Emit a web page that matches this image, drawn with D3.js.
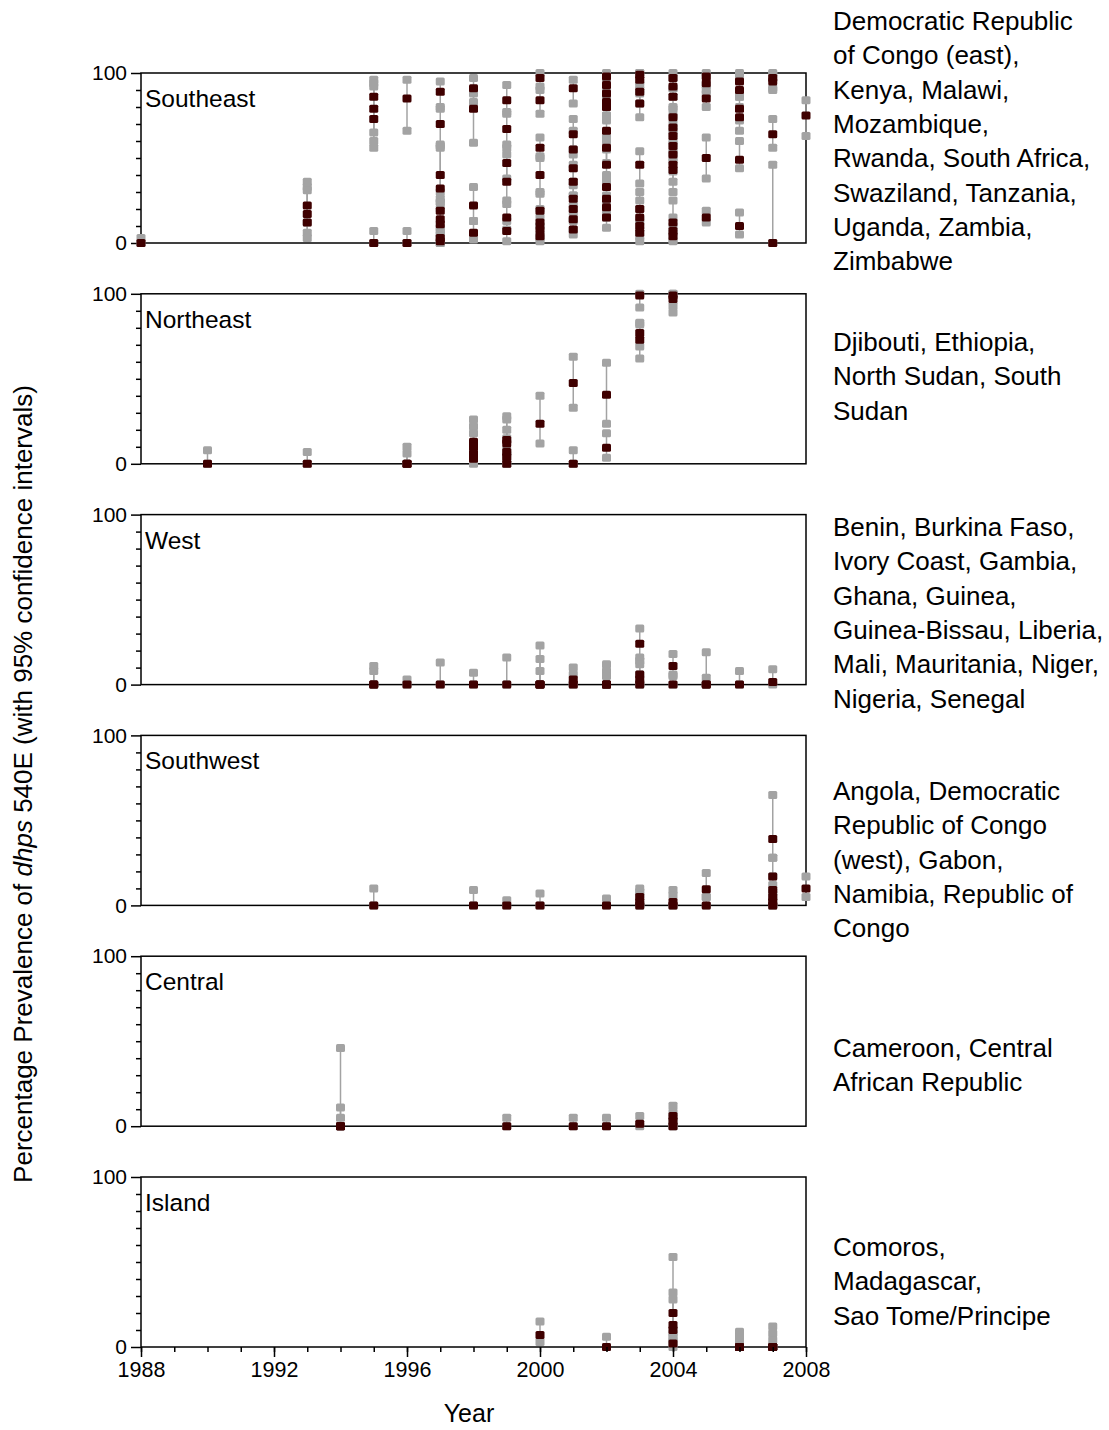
<!DOCTYPE html>
<html>
<head>
<meta charset="utf-8">
<script src="https://cdnjs.cloudflare.com/ajax/libs/d3/7.8.5/d3.min.js"></script>
<style>
  body { margin: 0; background: #fff; }
  text { font-family: "Liberation Sans", Arial, sans-serif; fill: #000; }
</style>
</head>
<body>
<div id="chart"></div>
<script>
// each row: [year, estimate, lower CI, upper CI]
var southeast = [
  [1988,0,0,3],
  [1993,22,12,36],[1993,17,6,33],[1993,12,3,31],
  [1995,86,65,96],[1995,79,60,94],[1995,73,56,92],[1995,0,0,7],
  [1996,85,66,96],[1996,0,0,7],
  [1997,89,79,95],[1997,70,57,80],[1997,40,24,58],[1997,32,20,56],[1997,19,8,30],[1997,14,5,26],[1997,11,3,24],[1997,3,0,9],[1997,1,0,5],
  [1998,91,83,97],[1998,79,59,88],[1998,22,13,33],[1998,6,2,13],
  [1999,84,76,93],[1999,67,58,77],[1999,47,38,56],[1999,36,25,52],[1999,15,8,23],[1999,7,1,13],
  [2000,97,90,100],[2000,84,76,92],[2000,56,50,62],[2000,40,30,51],[2000,19,10,29],[2000,12,5,20],[2000,8,3,15],[2000,4,1,10],
  [2001,91,82,96],[2001,64,55,73],[2001,55,46,66],[2001,44,36,52],[2001,36,28,44],[2001,26,18,34],[2001,20,13,28],[2001,14,8,22],[2001,8,5,14],
  [2002,98,93,100],[2002,93,86,98],[2002,88,80,95],[2002,83,75,90],[2002,80,72,88],[2002,66,60,75],[2002,56,47,62],[2002,46,38,55],[2002,33,25,40],[2002,26,18,35],[2002,21,15,28],[2002,15,9,20],
  [2003,99,93,100],[2003,96,90,100],[2003,89,82,95],[2003,82,74,88],[2003,46,35,54],[2003,20,12,30],[2003,15,8,25],[2003,10,4,20],[2003,6,1,14],
  [2004,97,91,100],[2004,92,86,97],[2004,86,79,91],[2004,74,66,80],[2004,68,60,75],[2004,63,54,70],[2004,57,48,64],[2004,52,42,58],[2004,46,36,53],[2004,43,30,50],[2004,12,6,25],[2004,7,2,15],[2004,4,1,10],
  [2005,98,93,100],[2005,94,88,98],[2005,85,80,90],[2005,50,38,62],[2005,15,12,19],
  [2006,95,88,100],[2006,90,86,97],[2006,79,72,86],[2006,74,66,80],[2006,49,44,60],[2006,10,5,18],
  [2007,97,91,100],[2007,95,90,99],[2007,64,56,73],[2007,0,0,46],
  [2008,75,63,84]
];
var northeast = [
  [1990,0,0,8],[1993,0,0,7],[1996,0,0,10],[1996,0,0,6],
  [1998,13,6,26],[1998,10,4,22],[1998,6,2,18],[1998,3,0,12],
  [1999,14,8,28],[1999,12,6,26],[1999,7,2,20],[1999,4,0,15],[1999,0,0,5],
  [2000,23.5,12,40],
  [2001,47.6,33,63],[2001,0,0,8],
  [2002,40.6,23.5,59.4],[2002,9.4,3.5,18],
  [2003,99,92,100],[2003,77,69,83],[2003,73,62,82],
  [2004,99,93,100],[2004,97,89,100]
];
var west = [
  [1995,0,0,11],[1995,0,0,8],[1996,0,0,3],[1997,0,0,13],[1998,0,0,7],[1999,0,0,16],
  [2000,0,0,23],[2000,0,0,15],[2000,0,0,8],
  [2001,3,0,10],[2001,0,0,6],
  [2002,0,0,12],[2002,0,0,8],[2002,0,0,5],
  [2003,24,16,33],[2003,6,1,14],[2003,3,0,12],[2003,0,0,6],
  [2004,11,6,18],[2004,0,0,5],
  [2005,0,0,19],[2005,0,0,4],
  [2006,0,0,8],
  [2007,1.5,0,9]
];
var southwest = [
  [1995,0,0,10],[1998,0,0,9],[1999,0,0,3],[2000,0,0,7],[2002,0,0,4],
  [2003,5,1,10],[2003,2,0,8],[2003,0,0,6],
  [2004,2,0,9],[2004,0,0,6],
  [2005,9.5,5,19],[2005,0,0,5],
  [2007,39,28,65],[2007,17,7,28],[2007,9,3,17],[2007,5,0,12],[2007,2,0,8],[2007,0,0,5],
  [2008,10,5,17]
];
var central = [
  [1994,0,0,46],[1994,0,0,11],[1994,0,0,5],
  [1999,0,0,5],[2001,0,0,5],[2002,0,0,5],
  [2003,1.5,0,6],
  [2004,6,1,12],[2004,3,0,8],[2004,0,0,5]
];
var island = [
  [2000,7,3,15],
  [2002,0,0,6],
  [2004,20,8,53],[2004,13,4,32],[2004,10,3,28],[2004,2,0,6],
  [2006,0,0,9],[2006,0,0,6],[2006,0,0,3],
  [2007,0,0,12],[2007,0,0,8],[2007,0,0,4]
];

var regionNames = ["Southeast", "Northeast", "West", "Southwest", "Central", "Island"];
var regionData = [southeast, northeast, west, southwest, central, island];
var regionCountries = [
  ["Democratic Republic", "of Congo (east),", "Kenya, Malawi,", "Mozambique,", "Rwanda, South Africa,", "Swaziland, Tanzania,", "Uganda, Zambia,", "Zimbabwe"],
  ["Djibouti, Ethiopia,", "North Sudan, South", "Sudan"],
  ["Benin, Burkina Faso,", "Ivory Coast, Gambia,", "Ghana, Guinea,", "Guinea-Bissau, Liberia,", "Mali, Mauritania, Niger,", "Nigeria, Senegal"],
  ["Angola, Democratic", "Republic of Congo", "(west), Gabon,", "Namibia, Republic of", "Congo"],
  ["Cameroon, Central", "African Republic"],
  ["Comoros,", "Madagascar,", "Sao Tome/Principe"]
];
var yearTicks = [1988, 1992, 1996, 2000, 2004, 2008];

var width = 1109, height = 1430;
var left = 141, right = 806;
var panelTop = 73, panelH = 170, panelStep = 220.8;
var listTop = [21, 342, 527, 791, 1048, 1247];
var grey = "#a3a3a3", dark = "#3f0000";

var svg = d3.select("#chart").append("svg")
    .attr("width", width)
    .attr("height", height);

var x = d3.scaleLinear().domain([1988, 2008]).range([left, right]);

regionNames.forEach(function (name, i) {
    var top = panelTop + i * panelStep;
    var y = d3.scaleLinear().domain([0, 100]).range([top + panelH, top]);
    var g = svg.append("g");
    var data = regionData[i];

    // frame
    g.append("rect")
        .attr("x", left).attr("y", top)
        .attr("width", right - left).attr("height", panelH)
        .attr("fill", "none").attr("stroke", "#000").attr("stroke-width", 1.5);

    // left axis: minor + major ticks
    var yAxis = d3.axisLeft(y).tickValues(d3.range(10, 100, 10)).tickSize(5).tickFormat("");
    var ya = g.append("g").attr("transform", "translate(" + left + ",0)").call(yAxis);
    var yMajor = d3.axisLeft(y).tickValues([0, 100]).tickSize(10).tickPadding(4);
    var yb = g.append("g").attr("transform", "translate(" + left + ",0)").call(yMajor);
    [ya, yb].forEach(function (a) {
        a.select(".domain").remove();
        a.selectAll("line").attr("stroke", "#000").attr("stroke-width", 1.5);
    });
    yb.selectAll("text").style("font-size", "21px").attr("font-family", "Liberation Sans, Arial, sans-serif").attr("fill", "#000");

    g.append("text")
        .attr("x", left + 4).attr("y", top + 34)
        .style("font-size", "24.5px")
        .text(name);

    // CI lines
    g.selectAll(".ci").data(data).enter().append("line")
        .attr("x1", function (d) { return x(d[0]); })
        .attr("x2", function (d) { return x(d[0]); })
        .attr("y1", function (d) { return y(d[2]); })
        .attr("y2", function (d) { return y(d[3]); })
        .attr("stroke", grey).attr("stroke-width", 1.5);

    var bounds = [];
    data.forEach(function (d) { bounds.push([d[0], d[2]]); bounds.push([d[0], d[3]]); });

    g.selectAll(".bound").data(bounds).enter().append("rect")
        .attr("x", function (d) { return x(d[0]) - 4.5; })
        .attr("y", function (d) { return y(d[1]) - 4; })
        .attr("width", 9).attr("height", 8).attr("rx", 1.5)
        .attr("fill", grey);

    g.selectAll(".est").data(data).enter().append("rect")
        .attr("x", function (d) { return x(d[0]) - 4.5; })
        .attr("y", function (d) { return y(d[1]) - 4; })
        .attr("width", 9).attr("height", 8).attr("rx", 1.5)
        .attr("fill", dark);

    // country list on the right
    var lines = regionCountries[i];
    var txt = g.append("text").attr("x", 833).style("font-size", "26px");
    lines.forEach(function (l, k) {
        txt.append("tspan").attr("x", 833).attr("y", listTop[i] + k * 34.3).attr("dy", "0.35em").text(l);
    });

    if (i === regionNames.length - 1) {
        var xMinor = d3.axisBottom(x).tickValues(d3.range(1988, 2009, 1)).tickSize(5).tickFormat("");
        var xa = g.append("g").attr("transform", "translate(0," + (top + panelH) + ")").call(xMinor);
        var xMajor = d3.axisBottom(x).tickValues(yearTicks).tickSize(10).tickPadding(5).tickFormat(d3.format("d"));
        var xb = g.append("g").attr("transform", "translate(0," + (top + panelH) + ")").call(xMajor);
        [xa, xb].forEach(function (a) {
            a.select(".domain").remove();
            a.selectAll("line").attr("stroke", "#000").attr("stroke-width", 1.5);
        });
        xb.selectAll("text").style("font-size", "21.5px").attr("font-family", "Liberation Sans, Arial, sans-serif").attr("fill", "#000");
    }
});

svg.append("text")
    .attr("x", 469).attr("y", 1413)
    .attr("dy", "0.35em")
    .attr("text-anchor", "middle")
    .style("font-size", "25px")
    .text("Year");

var yt = svg.append("text")
    .attr("transform", "translate(32,784) rotate(-90)")
    .attr("text-anchor", "middle")
    .style("font-size", "26px");
yt.append("tspan").text("Percentage Prevalence of ");
yt.append("tspan").style("font-style", "italic").text("dhps");
yt.append("tspan").text(" 540E (with 95% confidence intervals)");
</script>
</body>
</html>
